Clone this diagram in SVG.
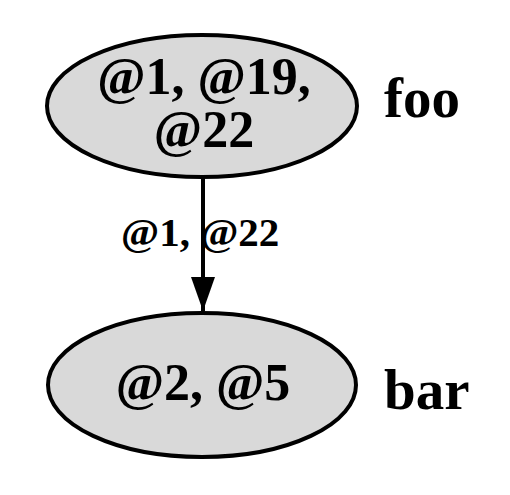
<svg xmlns="http://www.w3.org/2000/svg" width="510" height="495" viewBox="0 0 510 495">
  <style>
    .node { fill: #d9d9d9; stroke: #000; stroke-width: 4; }
    .lbl { font-family: "Liberation Serif", "Times New Roman", serif; font-weight: bold; fill: #000; }
    .big { font-size: 52px; text-anchor: middle; }
    .side { font-size: 57px; }
    .elbl { font-size: 41px; }
    .edge { stroke: #000; stroke-width: 4; fill: none; }
  </style>
  <defs>
    <marker id="arrow" markerUnits="userSpaceOnUse" markerWidth="36" markerHeight="26" refX="34" refY="12" orient="auto">
      <path d="M0,0 L34,12 L0,24 Z" fill="#000"/>
    </marker>
  </defs>

  <g id="connectors">
    <line class="edge" x1="203" y1="177" x2="203" y2="311" marker-end="url(#arrow)"/>
    <text class="lbl elbl" x="121" y="246">@1, @22</text>
  </g>

  <g id="foo">
    <ellipse class="node" cx="202" cy="106" rx="155" ry="71"/>
    <text class="lbl big" x="204" y="94">@1, @19,</text>
    <text class="lbl big" x="204" y="147">@22</text>
    <text class="lbl side" x="384" y="117">foo</text>
  </g>

  <g id="bar">
    <ellipse class="node" cx="202" cy="385" rx="154" ry="72"/>
    <text class="lbl big" x="203" y="400">@2, @5</text>
    <text class="lbl side" x="384" y="409">bar</text>
  </g>
</svg>
